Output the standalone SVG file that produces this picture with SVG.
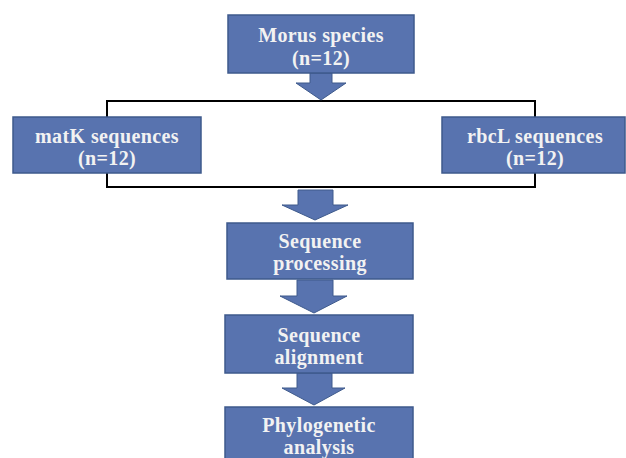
<svg xmlns="http://www.w3.org/2000/svg" width="626" height="458" viewBox="0 0 626 458">
<style>
.box{fill:#5873AF;stroke:#3E5A8C;stroke-width:1.5}
.arr{fill:#5873AF;stroke:#3E5A8C;stroke-width:1}
.frame{fill:none;stroke:#000;stroke-width:2}
.t{font-family:"Liberation Serif","Times New Roman",serif;font-weight:bold;font-size:20px;letter-spacing:0.4px;fill:#F2F2F2;text-anchor:middle}
</style>
<defs>
<clipPath id="c3"><rect x="227" y="223" width="186" height="56"/></clipPath>
<clipPath id="c4"><rect x="225" y="315" width="188" height="58"/></clipPath>
</defs>
<rect width="626" height="458" fill="#fff"/>
<g id="connectors">
<path class="frame" d="M107 117 V101 H535 V117 M107 173 V187 H535 V173"/>
<polygon class="arr" points="310,73 332,73 332,83 346,83 321,100 296,83 310,83"/>
<polygon class="arr" points="298,190 333,190 333,205 348,205 315,220 282,205 298,205"/>
<polygon class="arr" points="297,280 333,280 333,296 347,296 314,313 280,296 297,296"/>
<polygon class="arr" points="297,373 332,373 332,388 345,388 314,405 282,388 297,388"/>
</g>
<g id="morus">
<rect class="box" x="228" y="15" width="186" height="58"/>
<text class="t" x="321" y="42">Morus species</text>
<text class="t" x="321" y="65">(n=12)</text>
</g>
<g id="matk">
<rect class="box" x="13" y="117" width="188" height="56"/>
<text class="t" x="107" y="143">matK sequences</text>
<text class="t" x="107" y="165">(n=12)</text>
</g>
<g id="rbcl">
<rect class="box" x="442" y="117" width="183" height="56"/>
<text class="t" x="535" y="143">rbcL sequences</text>
<text class="t" x="535" y="165">(n=12)</text>
</g>
<g id="processing">
<rect class="box" x="227" y="223" width="186" height="56"/>
<g clip-path="url(#c3)">
<text class="t" x="320" y="248">Sequence</text>
<text class="t" x="320" y="270">processing</text>
</g>
</g>
<g id="alignment">
<rect class="box" x="225" y="315" width="188" height="58"/>
<g clip-path="url(#c4)">
<text class="t" x="319" y="342">Sequence</text>
<text class="t" x="319" y="364">alignment</text>
</g>
</g>
<g id="phylo">
<rect class="box" x="225" y="407" width="188" height="60"/>
<text class="t" x="319" y="432">Phylogenetic</text>
<text class="t" x="319" y="454">analysis</text>
</g>
</svg>
